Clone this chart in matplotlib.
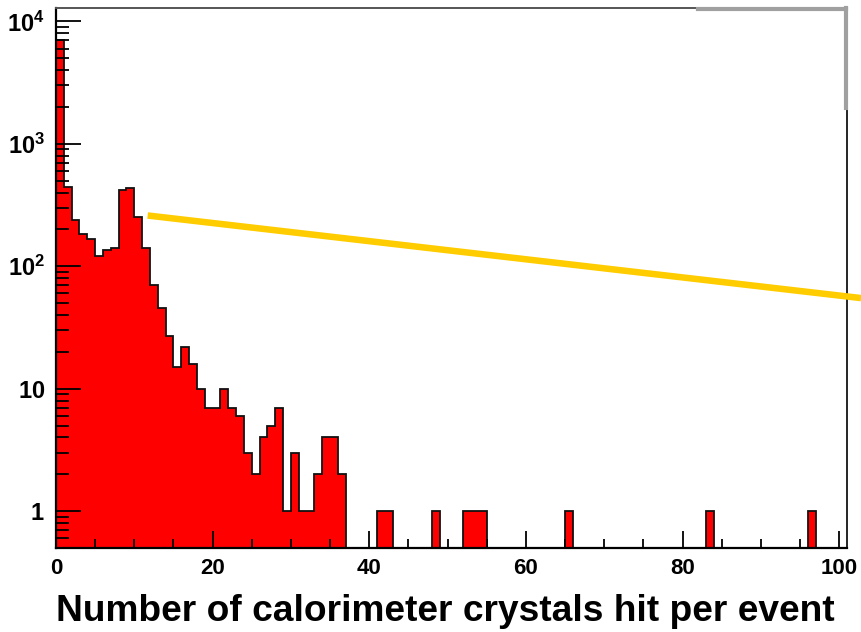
import matplotlib
matplotlib.use("Agg")
import matplotlib.pyplot as plt
from matplotlib.lines import Line2D
import numpy as np

# counts per unit-wide bin, x from 0 to 101
counts = [7000, 448, 238, 182, 166, 122, 135, 142, 417, 436,
          255, 140, 70, 46, 27, 15, 22, 16, 10, 7,
          7, 10, 7, 6, 3, 2, 4, 5, 7, 1,
          3, 1, 1, 2, 4, 4, 2, 0, 0, 0,
          0, 1, 1, 0, 0, 0, 0, 0, 1, 0,
          0, 0, 1, 1, 1, 0, 0, 0, 0, 0,
          0, 0, 0, 0, 0, 1, 0, 0, 0, 0,
          0, 0, 0, 0, 0, 0, 0, 0, 0, 0,
          0, 0, 0, 1, 0, 0, 0, 0, 0, 0,
          0, 0, 0, 0, 0, 0, 1, 0, 0, 0,
          0]
edges = np.arange(0, len(counts) + 1)

# yellow guide line (data coords), runs past the frame on the right
line_x = [11.7, 102.8]
line_y = [260, 55]

x_ticks = [0, 20, 40, 60, 80, 100]
y_ticks = [1, 10, 100, 1000, 10000]
y_labels = [r"$\mathbf{1}$", r"$\mathbf{10}$", r"$\mathbf{10^{2}}$",
            r"$\mathbf{10^{3}}$", r"$\mathbf{10^{4}}$"]
xlabel = "Number of calorimeter crystals hit per event"

plt.rcParams["font.family"] = ["Liberation Sans", "DejaVu Sans"]
plt.rcParams["font.weight"] = "bold"
plt.rcParams["mathtext.fontset"] = "custom"
plt.rcParams["mathtext.bf"] = "Liberation Sans:bold"
plt.rcParams["mathtext.rm"] = "Liberation Sans:bold"

fig = plt.figure(figsize=(8.61, 6.32), dpi=100)
W, H = 861, 632
ax = fig.add_axes([56 / W, 1 - 548 / H, (847 - 56) / W, (548 - 7.5) / H])

vals = np.array(counts, dtype=float)
vals[vals <= 0] = 1e-3  # empty bins drop below the axis
ax.stairs(vals, edges, baseline=1e-3, fill=True, color="#ff0000", zorder=1)
ax.stairs(vals, edges, baseline=1e-3, color="#111111", lw=1.3, zorder=1.2)

ax.plot(line_x, line_y, color="#ffcc00", lw=4.7, solid_capstyle="butt",
        clip_on=False, zorder=3)

ax.set_yscale("log")
ax.set_xlim(0, 101)
ax.set_ylim(0.5, 1.3e4)

ax.set_xticks(x_ticks)
ax.set_xticks(np.arange(0, 101, 5), minor=True)
ax.set_yticks(y_ticks)
ax.set_yticklabels(y_labels)
ax.yaxis.set_minor_locator(matplotlib.ticker.LogLocator(subs=np.arange(2, 10)))
ax.yaxis.set_minor_formatter(matplotlib.ticker.NullFormatter())

ax.tick_params(axis="both", which="both", direction="in", colors="black",
               labelsize=16, width=1.3)
ax.tick_params(axis="x", which="major", length=12.5, pad=7)
ax.tick_params(axis="x", which="minor", length=6.5)
ax.tick_params(axis="y", which="major", length=18, pad=8, labelsize=17)
ax.tick_params(axis="y", which="minor", length=9)
for lab in ax.get_xticklabels():
    lab.set_fontweight("bold")

ax.set_xlabel(xlabel, fontsize=26.7, fontweight="bold")
ax.xaxis.set_label_coords(0.492, -0.085)

for side in ["left", "bottom"]:
    ax.spines[side].set_linewidth(1.6)
    ax.spines[side].set_color("black")
ax.spines["right"].set_linewidth(1.2)
ax.spines["top"].set_color("#555555")
ax.spines["top"].set_linewidth(1.4)

# grey remains of a box in the top right corner
fig.add_artist(Line2D([698 / W, 846 / W], [1 - 9.3 / H, 1 - 9.3 / H],
                      color="#a0a0a0", lw=3))
fig.add_artist(Line2D([845.5 / W, 845.5 / W], [1 - 8 / H, 1 - 108 / H],
                      color="#a0a0a0", lw=3))

fig.savefig("out.png", dpi=100)
